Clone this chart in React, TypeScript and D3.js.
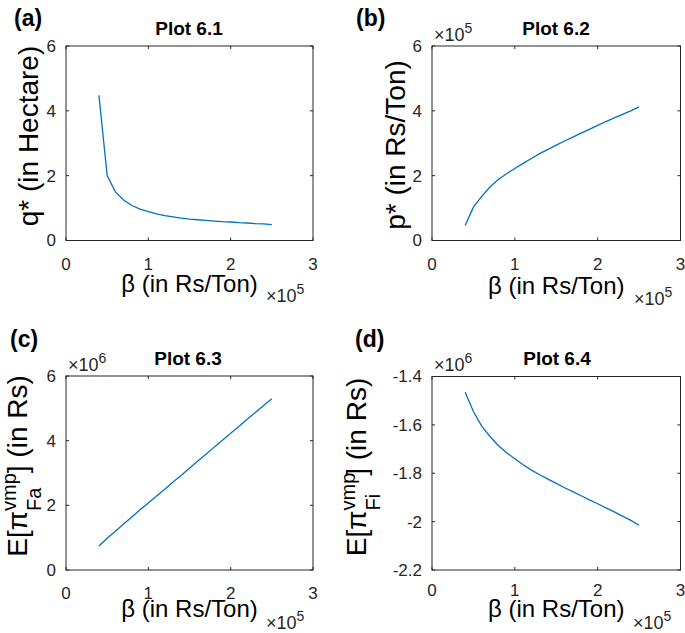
import React from "react";
import * as d3 from "d3";

// β values (×10^5 Rs/Ton)
const BETA = [0.4, 0.5, 0.6, 0.7, 0.8, 0.9, 1.0, 1.1, 1.2, 1.3, 1.4, 1.5, 1.6, 1.7, 1.8, 1.9, 2.0, 2.1, 2.2, 2.3, 2.4, 2.5];
// Plot 6.1 q* (Hectare)
const Q_STAR = [4.48, 2.0, 1.5, 1.25, 1.08, 0.97, 0.89, 0.82, 0.77, 0.73, 0.69, 0.66, 0.64, 0.62, 0.6, 0.58, 0.57, 0.55, 0.54, 0.52, 0.51, 0.49];
// Plot 6.2 p* (×10^5 Rs/Ton)
const P_STAR = [0.46, 1.03, 1.36, 1.65, 1.88, 2.06, 2.22, 2.38, 2.53, 2.68, 2.81, 2.94, 3.07, 3.19, 3.31, 3.43, 3.55, 3.67, 3.78, 3.89, 4.0, 4.12];
// Plot 6.3 E[π Fa] (×10^6 Rs)
const PI_FA = [0.74, 0.98, 1.2, 1.42, 1.64, 1.86, 2.07, 2.29, 2.5, 2.72, 2.93, 3.15, 3.37, 3.58, 3.8, 4.01, 4.23, 4.44, 4.66, 4.87, 5.09, 5.3];
// Plot 6.4 E[π Fi] (×10^6 Rs)
const PI_FI = [-1.465, -1.545, -1.605, -1.648, -1.685, -1.715, -1.74, -1.765, -1.787, -1.806, -1.824, -1.842, -1.86, -1.876, -1.893, -1.91, -1.926, -1.943, -1.96, -1.977, -1.995, -2.015];

const X_TICKS = [0, 1, 2, 3];
const Y_TICKS_A = [0, 2, 4, 6];
const Y_TICKS_B = [0, 2, 4, 6];
const Y_TICKS_C = [0, 2, 4, 6];
const Y_TICKS_D = [-2.2, -2, -1.8, -1.6, -1.4];

const FONT = "'Liberation Sans', Arial, Helvetica, sans-serif";
const AX = "#262626";
const LINE = "#0072BD";

type Box = { l: number; r: number; t: number; b: number };

function Exp(props: { x: number; y: number; e: string }) {
  return (
    <text x={props.x} y={props.y} fontSize={18} fill={AX} fontFamily={FONT}>
      ×10<tspan fontSize={14} dy={-8}>{props.e}</tspan>
    </text>
  );
}

function Panel(props: {
  box: Box;
  yDomain: [number, number];
  yTicks: number[];
  values: number[];
  letter: string;
  letterX: number;
  letterY: number;
  title: string;
  titleX: number;
  titleY: number;
  xTickY: number;
  xLabelY: number;
  xExp: { x: number; y: number };
  yExp?: { x: number; y: number; e: string };
  yLabel: React.ReactNode;
}) {
  const { box } = props;
  const x = d3.scaleLinear().domain([0, 3]).range([box.l, box.r]);
  const y = d3.scaleLinear().domain(props.yDomain).range([box.b, box.t]);
  const line = d3
    .line<number>()
    .x((_, i) => x(BETA[i]))
    .y((v) => y(v));
  const tl = 3;
  return (
    <g fontFamily={FONT}>
      <rect x={box.l} y={box.t} width={box.r - box.l} height={box.b - box.t} fill="none" stroke={AX} strokeWidth={1} />
      {X_TICKS.map((t) => (
        <g key={"x" + t}>
          <line x1={x(t)} x2={x(t)} y1={box.b} y2={box.b - tl} stroke={AX} />
          <line x1={x(t)} x2={x(t)} y1={box.t} y2={box.t + tl} stroke={AX} />
          <text x={x(t)} y={props.xTickY} fontSize={17} textAnchor="middle" fill={AX}>
            {String(t)}
          </text>
        </g>
      ))}
      {props.yTicks.map((t) => (
        <g key={"y" + t}>
          <line x1={box.l} x2={box.l + tl} y1={y(t)} y2={y(t)} stroke={AX} />
          <line x1={box.r} x2={box.r - tl} y1={y(t)} y2={y(t)} stroke={AX} />
          <text x={box.l - 10} y={y(t)} dy="0.35em" fontSize={17} textAnchor="end" fill={AX}>
            {String(t)}
          </text>
        </g>
      ))}
      <path d={line(props.values) || ""} fill="none" stroke={LINE} strokeWidth={1.3} />
      <text x={(box.l + box.r) / 2} y={props.xLabelY} fontSize={24} textAnchor="middle" fill="#000">
        β (in Rs/Ton)
      </text>
      <Exp x={props.xExp.x} y={props.xExp.y} e="5" />
      {props.yExp && <Exp x={props.yExp.x} y={props.yExp.y} e={props.yExp.e} />}
      {props.yLabel}
      <text x={props.titleX} y={props.titleY} fontSize={19} fontWeight="bold" textAnchor="middle" fill="#000">
        {props.title}
      </text>
      <text x={props.letterX} y={props.letterY} fontSize={23} fontWeight="bold" fill="#000">
        {props.letter}
      </text>
    </g>
  );
}

function PiLabel(props: { x: number; y: number; sub: string }) {
  return (
    <text transform={`translate(${props.x},${props.y}) rotate(-90)`} fontSize={28} textAnchor="middle" fill="#000" fontFamily={FONT}>
      E[π
      <tspan fontSize={20} dy={-11}>vmp</tspan>
      <tspan fontSize={20} dx={-37.8} dy={25}>{props.sub}</tspan>
      <tspan dx={props.sub === "Fa" ? 14.5 : 18} dy={-14}>] (in Rs)</tspan>
    </text>
  );
}

export default function App() {
  const A: Box = { l: 66, r: 313, t: 46, b: 240.5 };
  const B: Box = { l: 432, r: 680.5, t: 46, b: 240.5 };
  const C: Box = { l: 66, r: 313, t: 376, b: 570 };
  const D: Box = { l: 432, r: 680.5, t: 376.5, b: 570 };
  return (
    <svg width={685} height={633} style={{ position: "absolute", left: 0, top: 0, background: "#fff" }}>
      <rect width={685} height={633} fill="#fff" />
      <Panel
        box={A}
        yDomain={[0, 6]}
        yTicks={Y_TICKS_A}
        values={Q_STAR}
        letter="(a)"
        letterX={14}
        letterY={26}
        title="Plot 6.1"
        titleX={189}
        titleY={35}
        xTickY={270}
        xLabelY={292}
        xExp={{ x: 266, y: 302 }}
        yLabel={
          <text transform="translate(38,136) rotate(-90)" fontSize={28} textAnchor="middle" fontFamily={FONT} fill="#000">
            q* (in Hectare)
          </text>
        }
      />
      <Panel
        box={B}
        yDomain={[0, 6]}
        yTicks={Y_TICKS_B}
        values={P_STAR}
        letter="(b)"
        letterX={356}
        letterY={26}
        title="Plot 6.2"
        titleX={556}
        titleY={35}
        xTickY={270}
        xLabelY={294}
        xExp={{ x: 634, y: 305 }}
        yExp={{ x: 434, y: 41, e: "5" }}
        yLabel={
          <text transform="translate(405,145) rotate(-90)" fontSize={28} textAnchor="middle" fontFamily={FONT} fill="#000">
            p* (in Rs/Ton)
          </text>
        }
      />
      <Panel
        box={C}
        yDomain={[0, 6]}
        yTicks={Y_TICKS_C}
        values={PI_FA}
        letter="(c)"
        letterX={10}
        letterY={347}
        title="Plot 6.3"
        titleX={188}
        titleY={365}
        xTickY={599}
        xLabelY={617}
        xExp={{ x: 266, y: 629 }}
        yExp={{ x: 68, y: 371, e: "6" }}
        yLabel={<PiLabel x={27} y={466} sub="Fa" />}
      />
      <Panel
        box={D}
        yDomain={[-2.2, -1.4]}
        yTicks={Y_TICKS_D}
        values={PI_FI}
        letter="(d)"
        letterX={355}
        letterY={347}
        title="Plot 6.4"
        titleX={557}
        titleY={365}
        xTickY={596}
        xLabelY={617}
        xExp={{ x: 633, y: 629 }}
        yExp={{ x: 434, y: 371, e: "6" }}
        yLabel={<PiLabel x={366} y={467} sub="Fi" />}
      />
    </svg>
  );
}
